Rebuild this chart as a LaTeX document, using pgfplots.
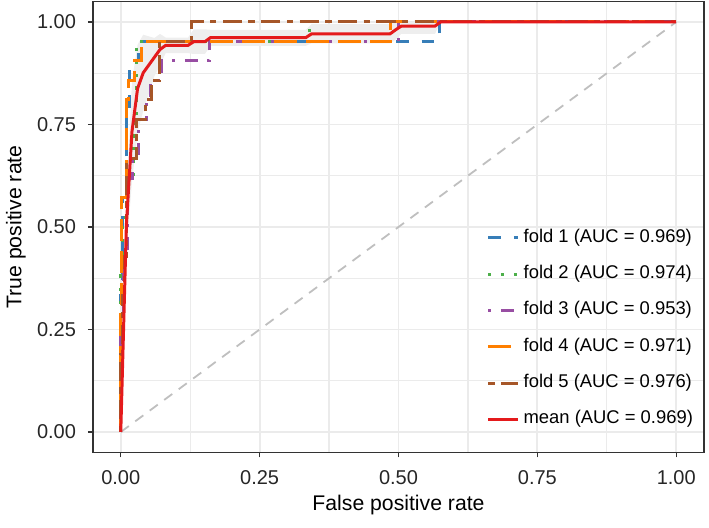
\documentclass[border=0pt]{standalone}
\usepackage{fontspec}
\setmainfont{Liberation Sans}
\usepackage{pgfplots}
\usepackage{pgfplotstable}
\pgfplotsset{compat=1.18}
\usepgfplotslibrary{fillbetween}
\definecolor{cA}{HTML}{377EB8}
\definecolor{cB}{HTML}{4DAF4A}
\definecolor{cC}{HTML}{984EA3}
\definecolor{cD}{HTML}{FF7F00}
\definecolor{cE}{HTML}{A65628}
\definecolor{cM}{HTML}{E41A1C}
\definecolor{gridc}{HTML}{EBEBEB}
\definecolor{axc}{HTML}{333333}
\definecolor{bandc}{HTML}{EEEEEE}

\pgfplotstableread{
x y
0 0
0 0.333
0.003 0.333
0.003 0.571
0.011 0.571
0.011 0.762
0.016 0.762
0.016 0.905
0.032 0.905
0.032 0.952
0.573 0.952
0.573 1
1 1
}\foldA
\pgfplotstableread{
x y
0 0
0 0.381
0.004 0.381
0.004 0.524
0.012 0.524
0.012 0.619
0.023 0.619
0.023 0.762
0.029 0.762
0.029 0.952
0.34 0.952
0.34 1
1 1
}\foldB
\pgfplotstableread{
x y
0 0
0 0.238
0.005 0.238
0.005 0.429
0.012 0.429
0.012 0.619
0.022 0.619
0.022 0.667
0.032 0.667
0.032 0.762
0.047 0.762
0.047 0.81
0.054 0.81
0.054 0.857
0.074 0.857
0.074 0.905
0.16 0.905
0.16 0.952
0.5 0.952
0.5 1
1 1
}\foldC
\pgfplotstableread{
x y
0 0
0 0.286
0.002 0.286
0.002 0.571
0.011 0.571
0.011 0.81
0.014 0.81
0.014 0.857
0.025 0.857
0.025 0.905
0.038 0.905
0.038 0.952
0.486 0.952
0.486 1
1 1
}\foldD
\pgfplotstableread{
x y
0 0
0 0.19
0.003 0.19
0.003 0.333
0.007 0.333
0.007 0.429
0.011 0.429
0.011 0.667
0.029 0.667
0.029 0.762
0.045 0.762
0.045 0.81
0.056 0.81
0.056 0.857
0.07 0.857
0.07 0.952
0.128 0.952
0.128 1
1 1
}\foldE
\pgfplotstableread{
x m l u
0 0 0 0
0.0101 0.505 0.441 0.569
0.0202 0.733 0.610 0.856
0.0303 0.838 0.731 0.945
0.0404 0.876 0.783 0.969
0.0505 0.895 0.825 0.965
0.0606 0.914 0.868 0.961
0.0707 0.933 0.895 0.971
0.0808 0.943 0.924 0.962
0.1212 0.943 0.924 0.962
0.1313 0.952 0.922 0.982
0.1515 0.952 0.922 0.982
0.1616 0.962 0.942 0.981
0.3333 0.962 0.942 0.981
0.3434 0.971 0.948 0.995
0.4848 0.971 0.948 0.995
0.4949 0.981 0.957 1.0
0.5051 0.990 0.971 1.0
0.5657 0.990 0.971 1.0
0.5758 1.0 1.0 1.0
1.0 1.0 1.0 1.0
}\meanroc

\begin{document}
\begin{tikzpicture}
\begin{axis}[
  scale only axis, width=305.5pt, height=225.5pt,
  xmin=-0.05, xmax=1.05, ymin=-0.05, ymax=1.05,
  xtick={0,0.25,0.5,0.75,1}, ytick={0,0.25,0.5,0.75,1},
  minor xtick={0.125,0.375,0.625,0.875}, minor ytick={0.125,0.375,0.625,0.875},
  grid=both,
  major grid style={color=gridc, line width=0.9pt},
  minor grid style={color=gridc, line width=0.6pt},
  tick pos=left, tick align=outside,
  major tick length=2.5pt, minor tick length=0pt,
  every tick/.style={color=axc, line width=0.55pt},
  axis line style={color=axc, line width=0.6pt},
  /pgf/number format/assume math mode=true,
  /pgf/number format/.cd, fixed, fixed zerofill, precision=2, /pgfplots/.cd,
  ticklabel style={font=\fontsize{10}{12}\selectfont, color=black!85},
  xticklabel style={yshift=-2.75pt},
  yticklabel style={xshift=-2.5pt},
  xlabel={False positive rate}, ylabel={True positive rate},
  label style={font=\fontsize{10.6}{12}\selectfont, color=black},
  xlabel style={at={(axis description cs:0.5,-0.1164)}, anchor=center},
  ylabel style={at={(axis description cs:-0.126,0.5)}, anchor=center},
  legend image code/.code={\draw[#1] (0pt,0pt) -- (15pt,0pt);},
  legend style={at={(axis cs:0.658,0.4956)}, anchor=north west, draw=none, fill=none,
    inner sep=0pt, font=\fontsize{9.2}{11}\selectfont,
    nodes={inner sep=0pt, text height=6.6pt, text depth=2.2pt},
    column sep=2pt, row sep=9.35pt},
  legend cell align=left,
]
\addplot[name path=up, draw=none, forget plot] table[x=x,y=u]{\meanroc};
\addplot[name path=lo, draw=none, forget plot] table[x=x,y=l]{\meanroc};
\addplot[fill=bandc, draw=none, forget plot] fill between[of=up and lo];
\addplot[forget plot, color=gray!50, line width=0.9pt, dash pattern=on 5pt off 4pt] coordinates {(0,0) (1,1)};
\addplot[color=cA, line width=1.5pt, dash pattern=on 6.4pt off 6.4pt] table{\foldA};
\addlegendentry{fold 1 (AUC = 0.969)}
\addplot[color=cB, line width=1.5pt, dash pattern=on 1.6pt off 4.8pt] table{\foldB};
\addlegendentry{fold 2 (AUC = 0.974)}
\addplot[color=cC, line width=1.5pt, dash pattern=on 1.6pt off 4.8pt on 6.4pt off 4.8pt] table{\foldC};
\addlegendentry{fold 3 (AUC = 0.953)}
\addplot[color=cD, line width=1.5pt, dash pattern=on 11.2pt off 4.8pt] table{\foldD};
\addlegendentry{fold 4 (AUC = 0.971)}
\addplot[color=cE, line width=1.5pt, dash pattern=on 3.2pt off 3.2pt on 9.6pt off 3.2pt] table{\foldE};
\addlegendentry{fold 5 (AUC = 0.976)}
\addplot[color=cM, line width=1.5pt] table[x=x,y=m]{\meanroc};
\addlegendentry{mean (AUC = 0.969)}
\end{axis}
\pgfresetboundingbox
\path[use as bounding box] ([xshift=-46.5pt,yshift=-37.75pt]current axis.south west) rectangle ([xshift=2.5pt,yshift=0.75pt]current axis.north east);
\end{tikzpicture}
\end{document}
